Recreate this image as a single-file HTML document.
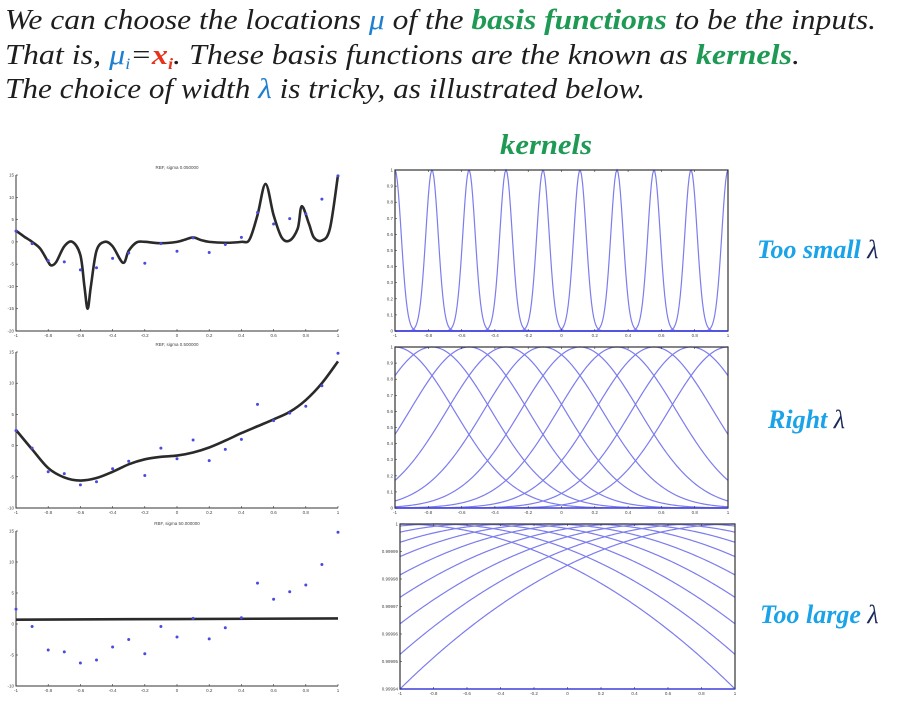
<!DOCTYPE html>
<html><head><meta charset="utf-8"><style>
html,body{margin:0;padding:0;background:#fff;}
svg{display:block;}
.t{font-family:"Liberation Serif",serif;font-style:italic;font-size:28px;fill:#1e1e1e;}
.tk{font-family:"Liberation Sans",sans-serif;font-size:4.5px;fill:#444;}
.lab{font-family:"Liberation Serif",serif;font-style:italic;font-weight:bold;font-size:26px;fill:#1aa3e8;}
</style></head><body>
<svg id="s" width="919" height="702" viewBox="0 0 919 702" xmlns="http://www.w3.org/2000/svg">
<text class="t" x="5" y="29" textLength="871" lengthAdjust="spacingAndGlyphs">We can choose the locations <tspan fill="#1f7fd0">μ</tspan>  of the <tspan fill="#1f9a55" font-weight="bold">basis functions</tspan> to be the inputs.</text>
<text class="t" x="5" y="64" textLength="795" lengthAdjust="spacingAndGlyphs">That is, <tspan fill="#1f7fd0">μ<tspan font-size="16" dy="5">i</tspan></tspan><tspan dy="-5">=</tspan><tspan fill="#e8321e" font-weight="bold">x<tspan font-size="16" dy="5">i</tspan></tspan><tspan dy="-5">. These basis functions are the known as </tspan><tspan fill="#1f9a55" font-weight="bold">kernels</tspan>.</text>
<text class="t" x="5" y="98" textLength="640" lengthAdjust="spacingAndGlyphs">The choice of width <tspan fill="#1f7fd0">λ</tspan> is tricky, as illustrated below.</text>
<text class="t" x="500" y="154" font-weight="bold" textLength="92" lengthAdjust="spacingAndGlyphs" style="fill:#1f9a55">kernels</text>
<text class="lab" x="757" y="258">Too small <tspan fill="#1c2a5a" font-weight="normal">λ</tspan></text>
<text class="lab" x="768" y="428">Right <tspan fill="#1c2a5a" font-weight="normal">λ</tspan></text>
<text class="lab" x="760" y="623">Too large <tspan fill="#1c2a5a" font-weight="normal">λ</tspan></text>
<g id="g"></g>
</svg>
<script>
const xData = [-1,-0.9,-0.8,-0.7,-0.6,-0.5,-0.4,-0.3,-0.2,-0.1,0,0.1,0.2,0.3,0.4,0.5,0.6,0.7,0.8,0.9,1];
const yData = [2.4,-0.4,-4.2,-4.5,-6.3,-5.8,-3.7,-2.5,-4.8,-0.4,-2.1,0.9,-2.4,-0.6,1.0,6.6,4.0,5.2,6.3,9.6,14.8];
const fit1X = [-1,-0.95,-0.9,-0.85,-0.8,-0.78,-0.75,-0.7,-0.65,-0.6,-0.575,-0.555,-0.535,-0.5,-0.45,-0.4,-0.335,-0.3,-0.25,-0.2,-0.1,0,0.05,0.1,0.15,0.2,0.3,0.4,0.45,0.5,0.55,0.6,0.65,0.7,0.75,0.775,0.82,0.85,0.9,0.95,1];
const fit1Y = [2.5,1.2,0,-1.5,-4.5,-5.3,-4.5,-1,0,-3,-10,-15,-10,-2,0,-1,-4.7,-2,-0.1,0,-0.3,0,0.5,1.0,0.4,0,-0.2,0,0.5,6,13,6,1,0.3,3,8,4,1,0.3,3,15];
const fit2X = [-1,-0.9,-0.8,-0.7,-0.6,-0.5,-0.4,-0.3,-0.2,-0.1,0,0.1,0.2,0.3,0.4,0.5,0.6,0.7,0.8,0.9,1];
const fit2Y = [2.5,-0.6,-3.6,-5.1,-5.6,-5.2,-4.2,-3.0,-2.2,-1.8,-1.6,-1.1,-0.3,0.8,2.0,3.1,4.2,5.4,7.3,10.0,13.5];
const fit3X = [-1,1];
const fit3Y = [0.7,0.9];
const xTicks = [-1,-0.8,-0.6,-0.4,-0.2,0,0.2,0.4,0.6,0.8,1];
const xTickLabels = ["-1","-0.8","-0.6","-0.4","-0.2","0","0.2","0.4","0.6","0.8","1"];
const yTicks1 = [15,10,5,0,-5,-10,-15,-20];
const yTicks23 = [15,10,5,0,-5,-10];
const kernelCenters = [-1,-7/9,-5/9,-3/9,-1/9,1/9,3/9,5/9,7/9,1];
const kTickLabels = ["0","0.1","0.2","0.3","0.4","0.5","0.6","0.7","0.8","0.9","1"];
const kTicks3Labels = ["0.99994","0.99995","0.99996","0.99997","0.99998","0.99999","1"];
const sigmaSmall = 0.037, sigmaRight = 0.355;

const NS="http://www.w3.org/2000/svg";
const G=document.getElementById('g');
function mk(tag,attrs,parent){const e=document.createElementNS(NS,tag);for(const k in attrs)e.setAttribute(k,attrs[k]);(parent||G).appendChild(e);return e;}
function lin(d0,d1,r0,r1){return v=>r0+(v-d0)/(d1-d0)*(r1-r0);}
function smoothPath(pts){let d='M'+pts[0][0]+','+pts[0][1];for(let i=0;i<pts.length-1;i++){const p0=pts[Math.max(0,i-1)],p1=pts[i],p2=pts[i+1],p3=pts[Math.min(pts.length-1,i+2)];const c1=[p1[0]+(p2[0]-p0[0])/6,p1[1]+(p2[1]-p0[1])/6],c2=[p2[0]-(p3[0]-p1[0])/6,p2[1]-(p3[1]-p1[1])/6];d+=' C'+c1+' '+c2+' '+p2;}return d;}

function leftPanel(name,top,bot,ymin,ymax,yticks,fx,fy,title){
  const sx=lin(-1,1,16,338), sy=lin(ymin,ymax,bot,top);
  const g=mk('g',{});
  
  
  const t=mk('text',{x:177,y:top-6,'text-anchor':'middle',class:'tk'},g);t.textContent=title;
  
  
  mk('path',{d:`M16,${top}V${bot}H338`,stroke:'#333','stroke-width':1,fill:'none'},g);
  xTicks.forEach((v,i)=>{const x=sx(v);mk('line',{x1:x,x2:x,y1:bot,y2:bot-2,stroke:'#333','stroke-width':0.6},g);
    const l=mk('text',{x:x,y:bot+6,'text-anchor':'middle',class:'tk'},g);l.textContent=xTickLabels[i];
    
    });
  yticks.forEach(v=>{const y=sy(v);mk('line',{x1:16,x2:18,y1:y,y2:y,stroke:'#333','stroke-width':0.6},g);
    const l=mk('text',{x:14,y:y+1.5,'text-anchor':'end',class:'tk'},g);l.textContent=String(v);
    
    });
  const p=mk('path',{d:smoothPath(fx.map((x,i)=>[sx(x),sy(fy[i])])),stroke:'#2a2a2a','stroke-width':2.6,fill:'none','stroke-linejoin':'round'},g);
  
  
  xData.forEach((x,i)=>{const c=mk('circle',{cx:sx(x),cy:sy(yData[i]),r:1.5,fill:'#4a4ae0'},g);
    
    });
}
leftPanel('fit-plot-small',175,331,-20,15,yTicks1,fit1X,fit1Y,'RBF, sigma 0.050000');
leftPanel('fit-plot-right',352,508,-10,15,yTicks23,fit2X,fit2Y,'RBF, sigma 0.500000');
leftPanel('fit-plot-large',531,686,-10,15,yTicks23,fit3X,fit3Y,'RBF, sigma 50.000000');

function rightPanel(name,x0,x1,top,bot,fn,ylabels){
  const sx=lin(-1,1,x0,x1), sy=lin(0,1,bot,top);
  const g=mk('g',{});
  
  
  kernelCenters.forEach(mu=>{const pts=[];for(let k=0;k<=300;k++){const x=-1+2*k/300;pts.push([sx(x).toFixed(2),sy(fn(x,mu)).toFixed(2)]);}
    const p=mk('polyline',{points:pts.join(' '),stroke:'#7c7cee','stroke-width':1.2,fill:'none'},g);
    
    });
  mk('rect',{x:x0,y:top,width:x1-x0,height:bot-top,stroke:'#333','stroke-width':1.2,fill:'none'},g);
  mk('line',{x1:x0,x2:x1,y1:bot,y2:bot,stroke:'#4a4ae8','stroke-width':1.6},g);
  xTicks.forEach((v,i)=>{const x=sx(v);mk('line',{x1:x,x2:x,y1:bot,y2:bot-2,stroke:'#333','stroke-width':0.6},g);mk('line',{x1:x,x2:x,y1:top,y2:top+2,stroke:'#333','stroke-width':0.6},g);
    const l=mk('text',{x:x,y:bot+6,'text-anchor':'middle',class:'tk'},g);l.textContent=xTickLabels[i];
    
    });
  ylabels.forEach((lab,i)=>{const y=bot-(bot-top)*i/(ylabels.length-1);mk('line',{x1:x0,x2:x0+2,y1:y,y2:y,stroke:'#333','stroke-width':0.6},g);
    const l=mk('text',{x:x0-2,y:y+1.5,'text-anchor':'end',class:'tk'},g);l.textContent=lab;
    
    });
}
rightPanel('kernels-small',395,728,170,331,(x,mu)=>Math.exp(-(x-mu)*(x-mu)/(2*sigmaSmall*sigmaSmall)),kTickLabels);
rightPanel('kernels-right',395,728,347,508,(x,mu)=>Math.exp(-(x-mu)*(x-mu)/(2*sigmaRight*sigmaRight)),kTickLabels);
rightPanel('kernels-large',400,735,524,689,(x,mu)=>1-((x-mu)/2)*((x-mu)/2),kTicks3Labels);
</script>
</body></html>
